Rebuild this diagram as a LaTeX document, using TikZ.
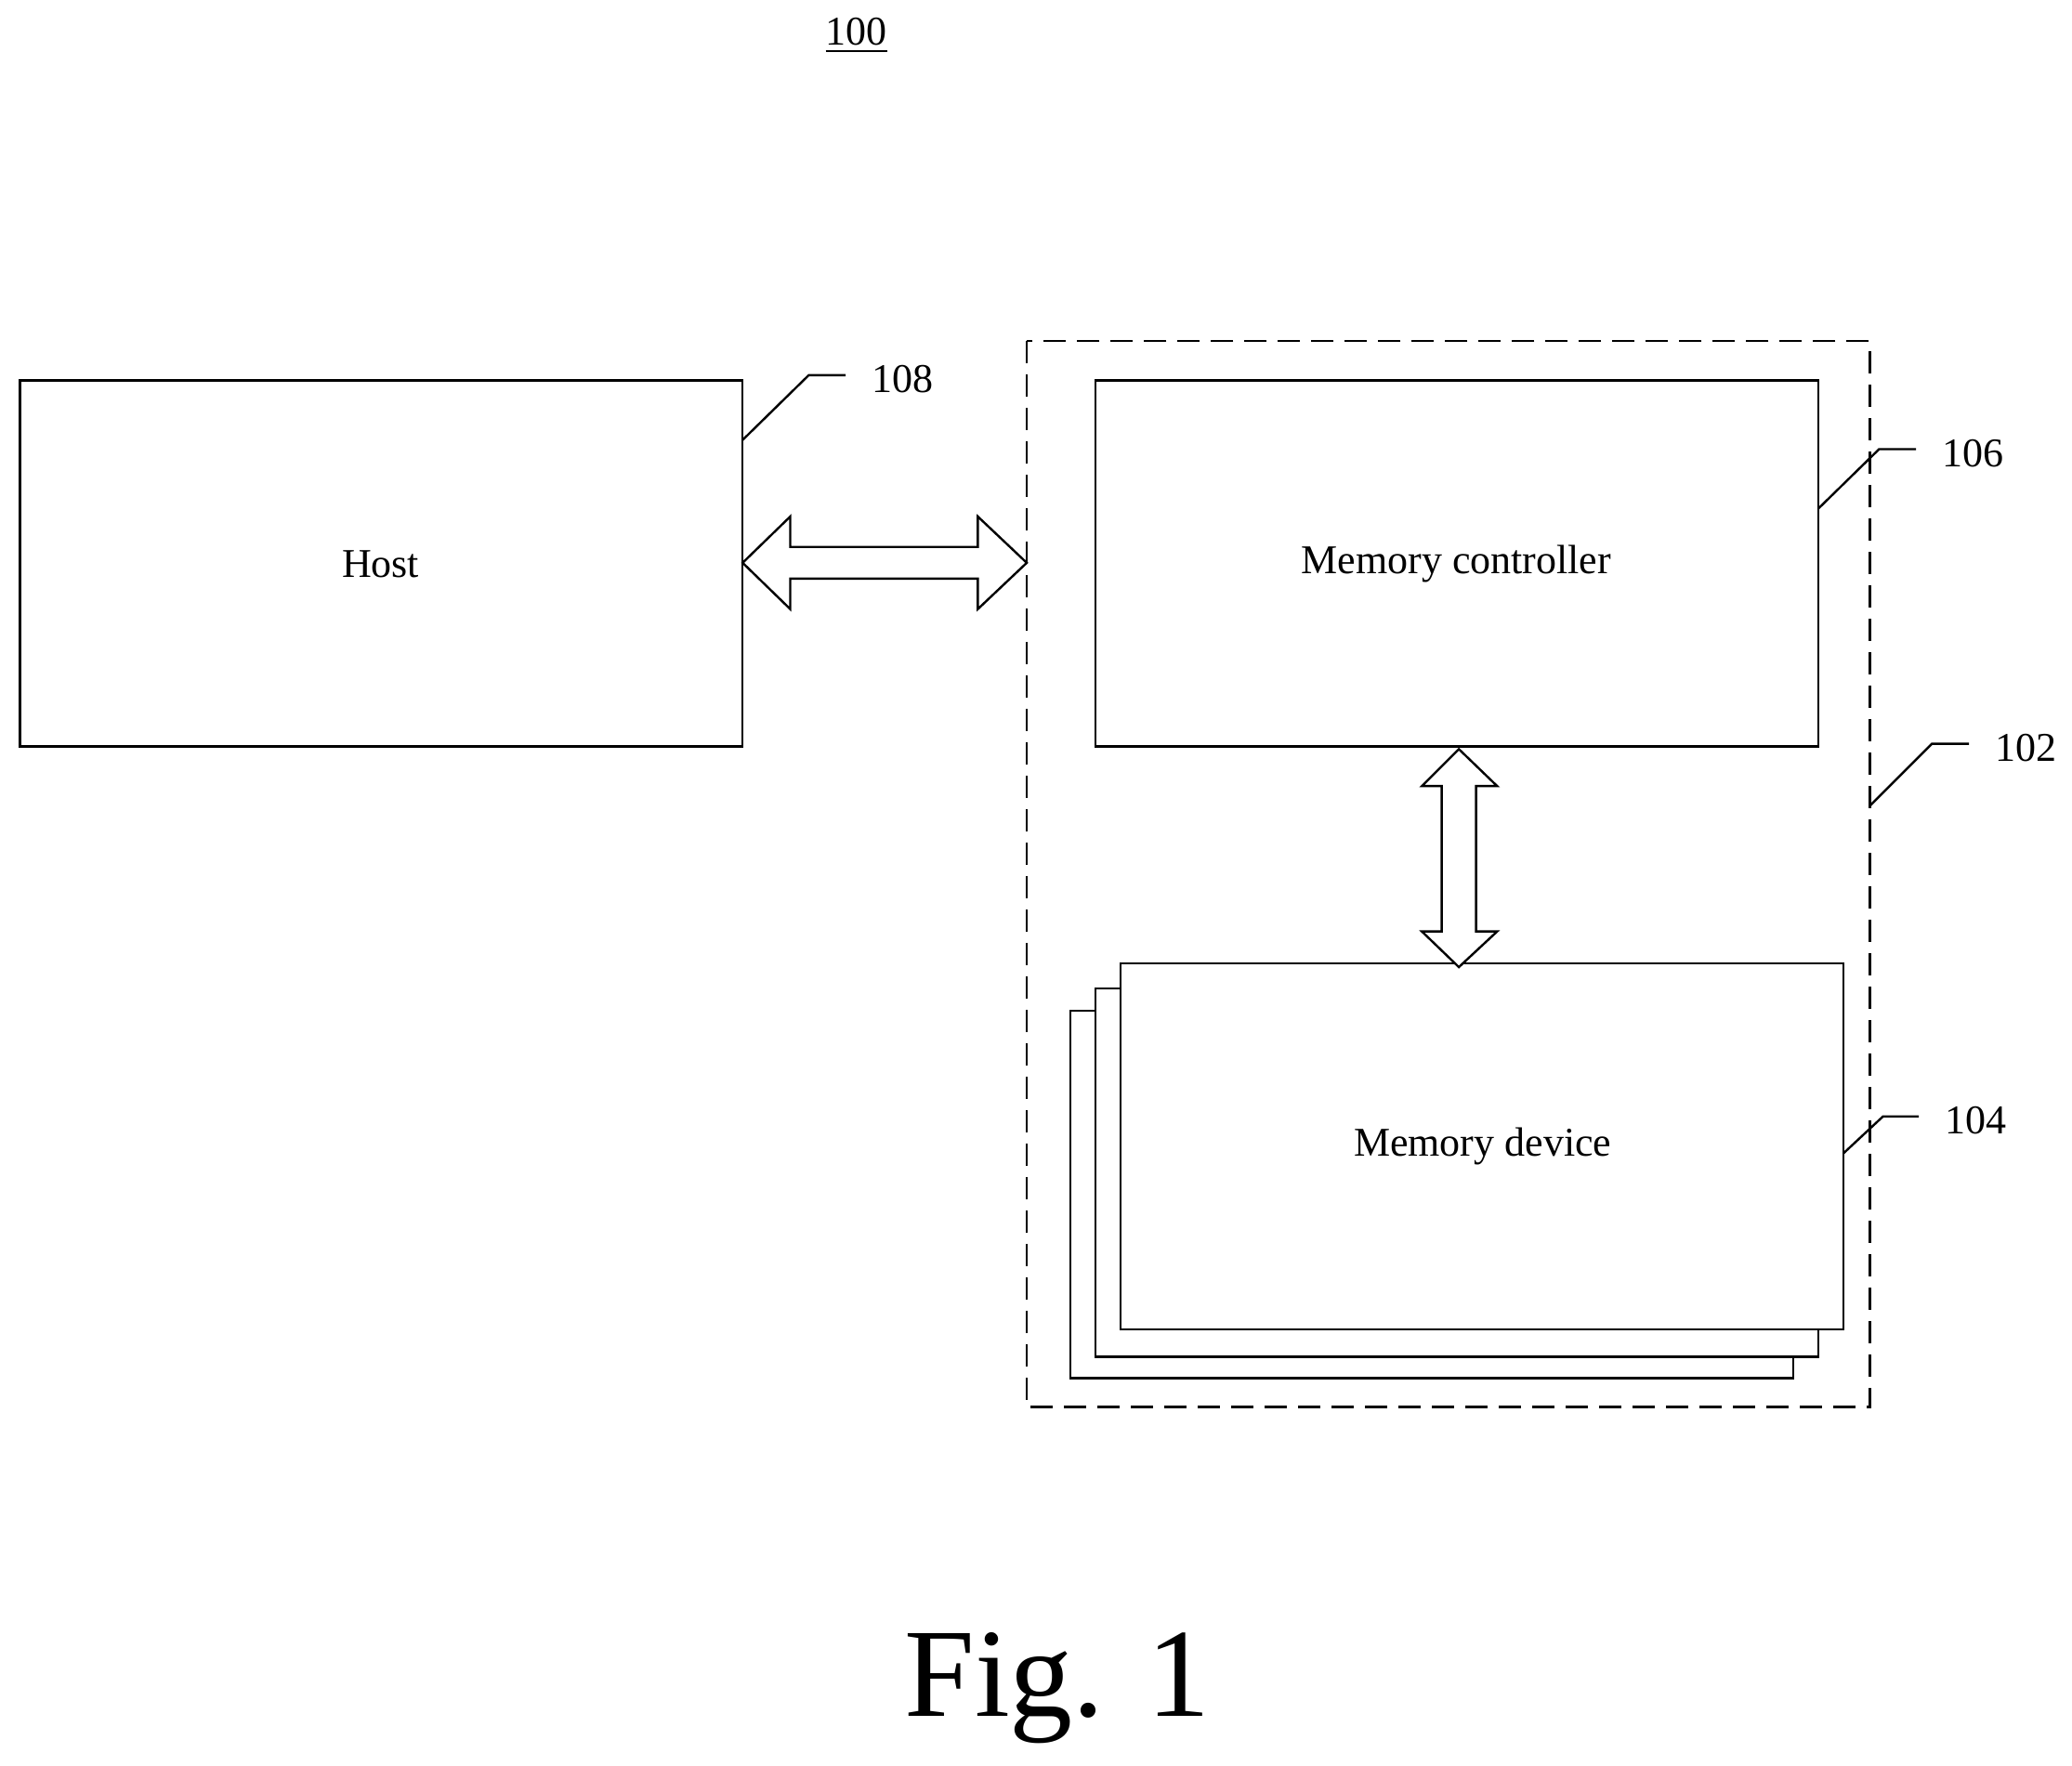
\documentclass[tikz,border=0pt]{standalone}
\usepackage{fontspec}
\setmainfont{Liberation Serif}
\begin{document}
\begin{tikzpicture}[x=0.0125cm,y=-0.0125cm,line width=0.6pt,
  box/.style={draw,fill=white,inner sep=0pt},
  lbl/.style={font=\fontsize{11pt}{13pt}\selectfont},
  lead/.style={line width=0.6pt}]
\useasboundingbox (0,0) rectangle (1568,1336);
\node[lbl] (n100) at (648,27) {\underline{100}};
% host
\draw (15,288) rectangle (562,565);
\node[lbl] (host) at (288,427) {Host};
\coordinate (h1) at (562,333);
\draw[lead] (h1) -- (612,284) -- (640,284);
\node[lbl,anchor=west] (l108) at (650,287) {108};
% dashed
\draw[dashed,dash pattern=on 6pt off 3pt] (777,258) rectangle (1415,1065);
\coordinate (d1) at (1415,610);
\draw[lead] (d1) -- (1462,563) -- (1490,563);
\node[lbl,anchor=west] (l102) at (1500,566) {102};
% controller
\draw (829,288) rectangle (1376,565);
\node[lbl] (mc) at (1102,427) {Memory controller};
\coordinate (c1) at (1376,385);
\draw[lead] (c1) -- (1422,340) -- (1450,340);
\node[lbl,anchor=west] (l106) at (1460,343) {106};
% device stack
\draw[fill=white] (810,765) rectangle (1357,1043);
\draw[fill=white] (829,748) rectangle (1376,1027);
\draw[fill=white] (848,729) rectangle (1395,1006);
\node[lbl] (md) at (1122,868) {Memory device};
\coordinate (m1) at (1395,873);
\draw[lead] (m1) -- (1425,845) -- (1452,845);
\node[lbl,anchor=west] (l104) at (1462,848) {104};
% horizontal double arrow
\draw[fill=white] (562,426) -- (598,391) -- (598,414) -- (740,414) -- (740,391) -- (777,426)
  -- (740,461) -- (740,438) -- (598,438) -- (598,461) -- cycle;
% vertical double arrow
\draw[fill=white] (1104,567) -- (1133,595) -- (1117,595) -- (1117,705) -- (1133,705) -- (1104,732)
  -- (1076,705) -- (1091,705) -- (1091,595) -- (1076,595) -- cycle;
\node[font=\fontsize{34pt}{40pt}\selectfont] (fig) at (800,1278) {Fig. 1};
\end{tikzpicture}
\end{document}
